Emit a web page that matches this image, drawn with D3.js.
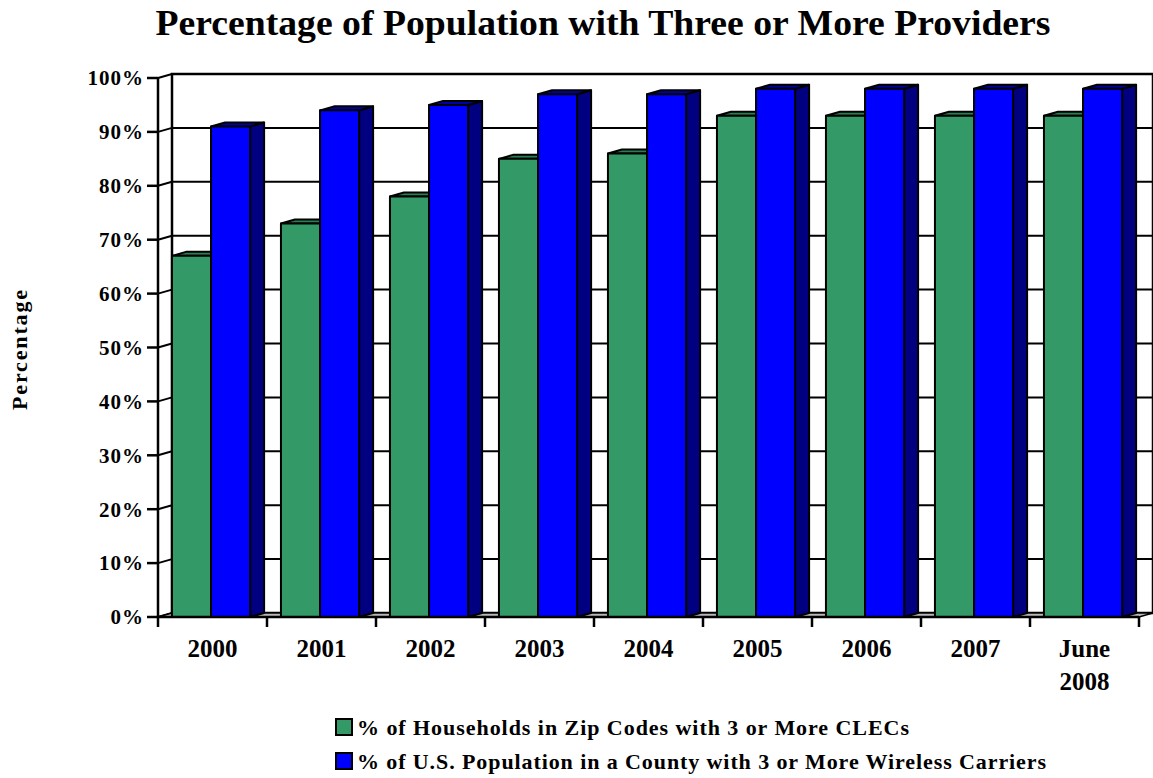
<!DOCTYPE html>
<html>
<head>
<meta charset="utf-8">
<script src="https://cdn.jsdelivr.net/npm/d3@7"></script>
<style>
  html, body { margin: 0; padding: 0; background: #fff; }
  svg { display: block; font-family: "Liberation Serif", "Times New Roman", serif; font-weight: bold; }
</style>
</head>
<body>
<svg id="chart" width="1153" height="778"></svg>
<script>
// Yearly share of population with three or more providers (%)
const categories = ["2000", "2001", "2002", "2003", "2004", "2005", "2006", "2007", "June 2008"];
const clecValues = [67, 73, 78, 85, 86, 93, 93, 93, 93];
const wirelessValues = [91, 94, 95, 97, 97, 98, 98, 98, 98];
const seriesNames = [
  "% of Households in Zip Codes with 3 or More CLECs",
  "% of U.S. Population in a County with 3 or More Wireless Carriers"
];
const yTicks = [0, 10, 20, 30, 40, 50, 60, 70, 80, 90, 100];

const seriesStyle = [
  { front: "#339966", top: "#2a7f52", side: "#1f5f3d" },
  { front: "#0000ff", top: "#0000a8", side: "#000080" }
];

const svg = d3.select("#chart");

// Plot box: front plane plus an oblique depth offset for the 3-D look
const plotLeft = 158, plotRight = 1139, plotBottom = 617, plotTop = 78;
const depthX = 14, depthY = -4;

const x = d3.scaleBand().domain(categories).range([plotLeft, plotRight]).padding(0);
const xs = d3.scaleBand().domain([0, 1])
  .range([x.bandwidth() * 0.128, x.bandwidth() * 0.845]).padding(0);
const y = d3.scaleLinear().domain([0, 100]).range([plotBottom, plotTop]);

const poly = pts => "M" + pts.map(p => p.join(",")).join("L") + "Z";

// Title
svg.append("text")
  .attr("x", 603).attr("y", 35)
  .attr("text-anchor", "middle")
  .attr("font-size", 36)
  .attr("textLength", 895).attr("lengthAdjust", "spacingAndGlyphs")
  .text("Percentage of Population with Three or More Providers");

// Back wall
svg.append("path")
  .attr("d", poly([[plotLeft + depthX, y(0) + depthY], [plotRight + depthX, y(0) + depthY],
                   [plotRight + depthX, y(100) + depthY], [plotLeft + depthX, y(100) + depthY]]))
  .attr("fill", "#fff").attr("stroke", "#000").attr("stroke-width", 2.5);

// Gridlines across the back wall and the left side wall
const grid = svg.append("g").attr("stroke", "#000").attr("stroke-width", 2).attr("fill", "none");
yTicks.forEach(t => {
  grid.append("line")
    .attr("x1", plotLeft + depthX).attr("x2", plotRight + depthX)
    .attr("y1", y(t) + depthY).attr("y2", y(t) + depthY);
  grid.append("line")
    .attr("x1", plotLeft).attr("x2", plotLeft + depthX)
    .attr("y1", y(t)).attr("y2", y(t) + depthY);
});

// Left wall back edge
grid.append("line").attr("x1", plotLeft + depthX).attr("x2", plotLeft + depthX)
  .attr("y1", y(0) + depthY).attr("y2", y(100) + depthY);

// Floor
svg.append("path")
  .attr("d", poly([[plotLeft, y(0)], [plotRight, y(0)], [plotRight + depthX, y(0) + depthY], [plotLeft + depthX, y(0) + depthY]]))
  .attr("fill", "#b8b8b8").attr("stroke", "#000").attr("stroke-width", 1.5);

// 3-D columns
const bars = svg.append("g").attr("stroke", "#000").attr("stroke-width", 2).attr("stroke-linejoin", "round");
categories.forEach((c, i) => {
  [clecValues[i], wirelessValues[i]].forEach((v, s) => {
    const x0 = x(c) + xs(s), x1 = x0 + xs.bandwidth();
    const y0 = y(0), y1 = y(v);
    const st = seriesStyle[s];
    bars.append("path")
      .attr("d", poly([[x1, y1], [x1 + depthX, y1 + depthY], [x1 + depthX, y0 + depthY], [x1, y0]]))
      .attr("fill", st.side);
    bars.append("path")
      .attr("d", poly([[x0, y1], [x1, y1], [x1 + depthX, y1 + depthY], [x0 + depthX, y1 + depthY]]))
      .attr("fill", st.top);
    bars.append("rect")
      .attr("x", x0).attr("y", y1)
      .attr("width", x1 - x0).attr("height", y0 - y1)
      .attr("fill", st.front);
  });
});

// Front value axis with tick labels
const yAxis = svg.append("g");
yAxis.append("line").attr("x1", plotLeft).attr("x2", plotLeft)
  .attr("y1", y(100)).attr("y2", y(0) + 10)
  .attr("stroke", "#000").attr("stroke-width", 2.5);
yTicks.forEach(t => {
  yAxis.append("line").attr("x1", plotLeft - 11).attr("x2", plotLeft)
    .attr("y1", y(t)).attr("y2", y(t))
    .attr("stroke", "#000").attr("stroke-width", 2.5);
  yAxis.append("text")
    .attr("x", 144).attr("y", y(t))
    .attr("dy", "0.35em")
    .attr("text-anchor", "end")
    .attr("font-size", 21)
    .attr("letter-spacing", 1)
    .text(t + "%");
});

// Front category axis
const xAxis = svg.append("g");
xAxis.append("line").attr("x1", plotLeft).attr("x2", plotRight)
  .attr("y1", y(0)).attr("y2", y(0))
  .attr("stroke", "#000").attr("stroke-width", 2.5);
categories.forEach(c => {
  xAxis.append("line")
    .attr("x1", x(c) + x.bandwidth()).attr("x2", x(c) + x.bandwidth())
    .attr("y1", y(0)).attr("y2", y(0) + 10)
    .attr("stroke", "#000").attr("stroke-width", 2.5);
  const words = c === "June 2008" ? ["June", "2008"] : [c];
  const label = xAxis.append("text")
    .attr("x", x(c) + x.bandwidth() / 2)
    .attr("y", 657)
    .attr("text-anchor", "middle")
    .attr("font-size", 25);
  words.forEach((w, k) => {
    label.append("tspan")
      .attr("x", x(c) + x.bandwidth() / 2)
      .attr("dy", k === 0 ? 0 : 33)
      .text(w);
  });
});

// Axis title
svg.append("text")
  .attr("transform", "translate(27,350) rotate(-90)")
  .attr("text-anchor", "middle")
  .attr("font-size", 22)
  .attr("textLength", 120).attr("lengthAdjust", "spacing")
  .text("Percentage");

// Legend
const legend = svg.append("g");
const legendWidths = [552, 689];
seriesNames.forEach((name, s) => {
  const ly = 727 + s * 34;
  legend.append("rect")
    .attr("x", 336).attr("y", ly - 8)
    .attr("width", 16).attr("height", 16)
    .attr("fill", seriesStyle[s].front)
    .attr("stroke", "#000").attr("stroke-width", 2);
  legend.append("text")
    .attr("x", 357).attr("y", ly)
    .attr("dy", "0.35em")
    .attr("font-size", 22)
    .attr("textLength", legendWidths[s]).attr("lengthAdjust", "spacing")
    .text(name);
});
</script>
</body>
</html>
